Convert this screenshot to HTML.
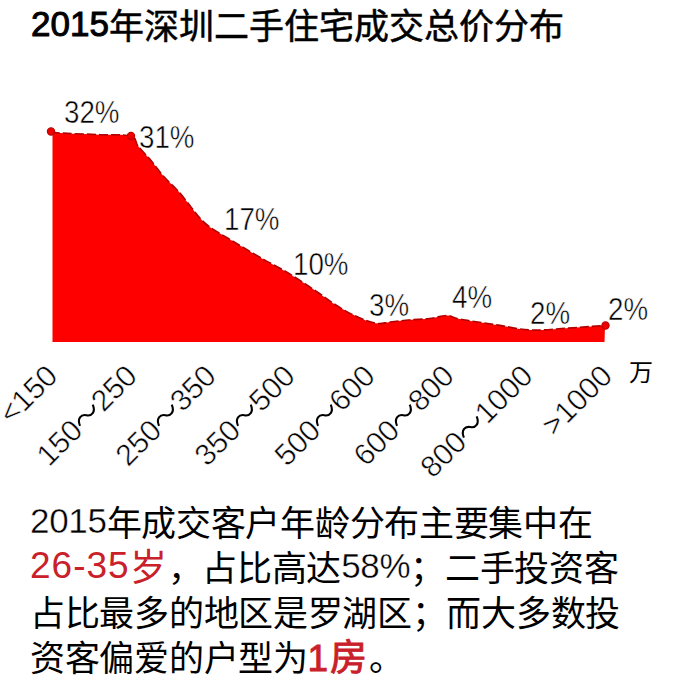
<!DOCTYPE html>
<html lang="zh-CN"><head><meta charset="utf-8">
<style>
html,body{margin:0;padding:0;background:#fff;}
body{width:680px;height:682px;position:relative;overflow:hidden;font-family:"Liberation Sans",sans-serif;color:#000;}
.t{position:absolute;white-space:nowrap;line-height:1;}
#title{left:31px;top:9px;font-size:35px;-webkit-text-stroke:0.5px #000;}
.lbl{position:absolute;font-size:31.5px;line-height:1;white-space:nowrap;transform-origin:0 0;transform:scaleX(0.88);-webkit-text-stroke:0.5px #fff;}
.xl{position:absolute;font-size:30px;line-height:1;white-space:nowrap;transform-origin:100% 0;transform:rotate(-45deg);-webkit-text-stroke:0.5px #fff;}
#body{position:absolute;left:30px;top:501px;font-size:35px;line-height:45px;letter-spacing:-0.3px;white-space:nowrap;}
.red{color:#c9202a;}
.dg{-webkit-text-stroke:0.4px #fff;}
#chart{position:absolute;left:0;top:0}
</style></head><body>
<div id="title" class="t"><span style="position:relative;top:-3px;-webkit-text-stroke:1px #000">2015</span>年深圳二手住宅成交总价分布</div>
<svg id="chart" width="680" height="682">
<path d="M52.5,131.8 C52.5,131.8 51.8,132.5 60.0,133.0 C68.2,133.5 88.2,134.2 100.0,134.7 C111.8,135.2 124.7,134.1 131.0,136.0 C137.3,137.9 134.7,141.9 138.0,146.0 C141.3,150.1 146.7,155.5 151.0,160.6 C155.3,165.7 159.4,171.7 164.0,176.8 C168.6,181.9 173.8,186.2 178.4,191.3 C183.0,196.4 187.8,203.0 191.3,207.4 C194.9,211.8 196.7,214.6 199.7,217.8 C202.7,221.0 204.6,223.2 209.4,226.7 C214.2,230.2 222.9,235.2 228.8,238.8 C234.7,242.4 239.1,245.0 245.0,248.5 C250.9,252.0 257.9,256.2 264.4,259.9 C270.9,263.5 278.0,267.0 283.9,270.4 C289.8,273.8 294.4,276.9 300.0,280.5 C305.6,284.1 311.6,288.2 317.2,292.0 C322.8,295.8 328.0,299.9 333.4,303.4 C338.8,306.9 344.2,310.3 349.6,313.1 C355.0,315.9 361.0,318.6 365.8,320.4 C370.6,322.1 374.7,323.3 378.7,323.6 C382.7,323.9 385.0,322.6 390.0,322.0 C395.0,321.4 401.9,320.6 408.5,320.0 C415.1,319.4 423.2,319.2 429.6,318.5 C436.0,317.8 442.0,315.5 446.6,315.5 C451.2,315.5 453.2,317.6 457.0,318.5 C460.8,319.4 463.0,319.7 469.4,320.7 C475.8,321.7 485.1,323.1 495.3,324.7 C505.5,326.2 518.8,329.4 530.6,330.0 C542.4,330.6 555.7,328.8 565.9,328.2 C576.1,327.6 585.3,326.8 591.8,326.4 C598.3,325.9 602.8,325.6 605.0,325.5 L604.5,342 L52.5,342 Z" fill="#ff0000"/>
<path d="M51.0,131.5 C52.5,131.8 51.8,132.5 60.0,133.0 C68.2,133.5 88.2,134.2 100.0,134.7 C111.8,135.2 124.7,134.1 131.0,136.0 C137.3,137.9 134.7,141.9 138.0,146.0 C141.3,150.1 146.7,155.5 151.0,160.6 C155.3,165.7 159.4,171.7 164.0,176.8 C168.6,181.9 173.8,186.2 178.4,191.3 C183.0,196.4 187.8,203.0 191.3,207.4 C194.9,211.8 196.7,214.6 199.7,217.8 C202.7,221.0 204.6,223.2 209.4,226.7 C214.2,230.2 222.9,235.2 228.8,238.8 C234.7,242.4 239.1,245.0 245.0,248.5 C250.9,252.0 257.9,256.2 264.4,259.9 C270.9,263.5 278.0,267.0 283.9,270.4 C289.8,273.8 294.4,276.9 300.0,280.5 C305.6,284.1 311.6,288.2 317.2,292.0 C322.8,295.8 328.0,299.9 333.4,303.4 C338.8,306.9 344.2,310.3 349.6,313.1 C355.0,315.9 361.0,318.6 365.8,320.4 C370.6,322.1 374.7,323.3 378.7,323.6 C382.7,323.9 385.0,322.6 390.0,322.0 C395.0,321.4 401.9,320.6 408.5,320.0 C415.1,319.4 423.2,319.2 429.6,318.5 C436.0,317.8 442.0,315.5 446.6,315.5 C451.2,315.5 453.2,317.6 457.0,318.5 C460.8,319.4 463.0,319.7 469.4,320.7 C475.8,321.7 485.1,323.1 495.3,324.7 C505.5,326.2 518.8,329.4 530.6,330.0 C542.4,330.6 555.7,328.8 565.9,328.2 C576.1,327.6 585.3,326.8 591.8,326.4 C598.3,325.9 602.8,325.6 605.0,325.5" fill="none" stroke="#b00000" stroke-width="1.6" stroke-dasharray="9 3"/>
<circle cx="51" cy="131.5" r="3.6" fill="#ee0000" stroke="#c00000" stroke-width="1.2"/>
<circle cx="131" cy="136" r="3.6" fill="#ee0000" stroke="#c00000" stroke-width="1.2"/>
<circle cx="605.5" cy="325.5" r="3.6" fill="#ee0000" stroke="#c00000" stroke-width="1.2"/>
</svg>
<div class="lbl" style="left:64px;top:97px">32%</div>
<div class="lbl" style="left:139px;top:122px">31%</div>
<div class="lbl" style="left:224px;top:204px">17%</div>
<div class="lbl" style="left:293px;top:249px">10%</div>
<div class="lbl" style="left:369px;top:290px">3%</div>
<div class="lbl" style="left:452px;top:282px">4%</div>
<div class="lbl" style="left:530px;top:298px">2%</div>
<div class="lbl" style="left:608px;top:294px">2%</div>
<div class="xl" style="right:638px;top:360px">&lt;150</div>
<div class="xl" style="right:559px;top:360px">150<svg width="0.9em" height="0.5em" viewBox="0 0 36 20" style="vertical-align:0.1em"><path d="M2,14 C6,4 14,4 18,10 C22,16 30,16 34,6" fill="none" stroke="#000" stroke-width="2.8"/></svg>250</div>
<div class="xl" style="right:480px;top:360px">250<svg width="0.9em" height="0.5em" viewBox="0 0 36 20" style="vertical-align:0.1em"><path d="M2,14 C6,4 14,4 18,10 C22,16 30,16 34,6" fill="none" stroke="#000" stroke-width="2.8"/></svg>350</div>
<div class="xl" style="right:401px;top:360px">350<svg width="0.9em" height="0.5em" viewBox="0 0 36 20" style="vertical-align:0.1em"><path d="M2,14 C6,4 14,4 18,10 C22,16 30,16 34,6" fill="none" stroke="#000" stroke-width="2.8"/></svg>500</div>
<div class="xl" style="right:321px;top:360px">500<svg width="0.9em" height="0.5em" viewBox="0 0 36 20" style="vertical-align:0.1em"><path d="M2,14 C6,4 14,4 18,10 C22,16 30,16 34,6" fill="none" stroke="#000" stroke-width="2.8"/></svg>600</div>
<div class="xl" style="right:242px;top:360px">600<svg width="0.9em" height="0.5em" viewBox="0 0 36 20" style="vertical-align:0.1em"><path d="M2,14 C6,4 14,4 18,10 C22,16 30,16 34,6" fill="none" stroke="#000" stroke-width="2.8"/></svg>800</div>
<div class="xl" style="right:163px;top:360px">800<svg width="0.9em" height="0.5em" viewBox="0 0 36 20" style="vertical-align:0.1em"><path d="M2,14 C6,4 14,4 18,10 C22,16 30,16 34,6" fill="none" stroke="#000" stroke-width="2.8"/></svg>1000</div>
<div class="xl" style="right:84px;top:360px">&gt;1000</div>
<div class="t" style="left:629px;top:361px;font-size:24px">万</div>
<div id="body"><span class="dg" style="position:relative;top:-3px">2015</span>年成交客户年龄分布主要集中在<br><span class="red" style="font-size:37px;letter-spacing:1px"><span style="position:relative;top:-3px">26-35</span>岁</span>，占比高达<span class="dg" style="position:relative;top:-3px">58%</span>；二手投资客<br>占比最多的地区是罗湖区；而大多数投<br>资客偏爱的户型为<span class="red" style="font-size:37px;-webkit-text-stroke:0.9px #c9202a;letter-spacing:2px">1房</span>。</div>
</body></html>
